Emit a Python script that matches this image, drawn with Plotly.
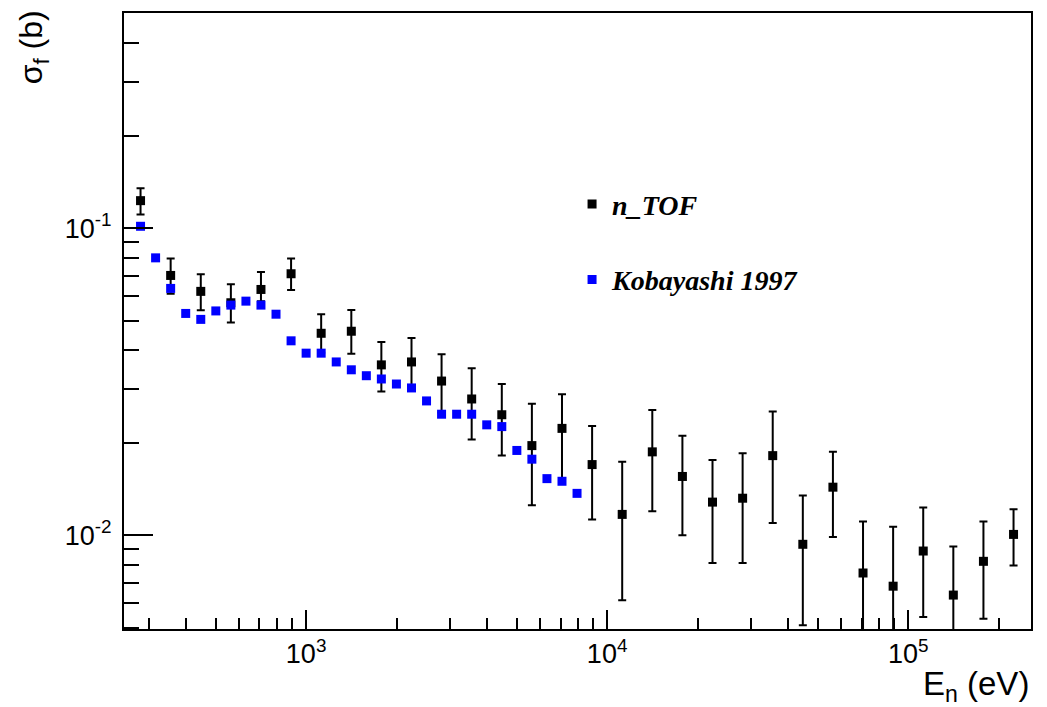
import plotly.graph_objects as go

# n_TOF data (energy in eV, cross section in b, with upper/lower error limits)
ntof_E = [281.8, 354.8, 446.7, 562.3, 707.9, 891.3, 1122, 1413, 1778, 2239,
          2818, 3548, 4467, 5623, 7079, 8913, 11220, 14125, 17783, 22387,
          28184, 35481, 44668, 56234, 70795, 89125, 112202, 141254, 177828, 223872]
ntof_sigma = [0.1230, 0.0702, 0.0623, 0.0572, 0.0632, 0.0711, 0.0455, 0.0462, 0.0359, 0.0367,
              0.0318, 0.0278, 0.0247, 0.0196, 0.0223, 0.0170, 0.0117, 0.0187, 0.01555, 0.01283,
              0.01321, 0.01818, 0.00935, 0.01435, 0.00754, 0.00683, 0.00889, 0.00639, 0.00823, 0.01007]
ntof_upper = [0.1349, 0.0797, 0.0708, 0.0657, 0.0720, 0.0797, 0.0525, 0.0542, 0.0426, 0.0439,
              0.0389, 0.0350, 0.0311, 0.0268, 0.0288, 0.0227, 0.01735, 0.0256, 0.0211, 0.0176,
              0.0185, 0.0253, 0.01349, 0.0187, 0.0111, 0.01066, 0.01233, 0.00919, 0.0111, 0.01217]
ntof_lower = [0.1108, 0.0612, 0.0541, 0.0493, 0.0579, 0.0629, 0.0393, 0.0390, 0.0294, 0.0307,
              0.0251, 0.0205, 0.0182, 0.01252, 0.0151, 0.01127, 0.00615, 0.01197, 0.0100, 0.00813,
              0.00813, 0.01096, 0.0051, 0.00987, 0.0045, 0.0042, 0.00542, 0.0042, 0.00535, 0.00797]

# Kobayashi 1997 data
koba_E = [281.8, 316.2, 354.8, 398.1, 446.7, 501.2, 562.3, 631.0, 707.9, 794.3,
          891.3, 1000, 1122, 1259, 1413, 1585, 1778, 1995, 2239, 2512,
          2818, 3162, 3548, 3981, 4467, 5012, 5623, 6310, 7079, 7943]
koba_sigma = [0.1015, 0.0801, 0.0637, 0.0528, 0.0505, 0.0538, 0.0562, 0.0579, 0.0562, 0.0525,
              0.0430, 0.0392, 0.0392, 0.0367, 0.0346, 0.0331, 0.0323, 0.0311, 0.0302, 0.0274,
              0.0248, 0.0248, 0.0248, 0.0229, 0.0226, 0.0189, 0.0177, 0.0153, 0.0150, 0.0137]

series_names = ["<b><i>n_TOF</i></b>", "<b><i>Kobayashi 1997</i></b>"]

# tick labels
x_tickvals = [1e3, 1e4, 1e5]
x_ticktext = ["10<sup>3</sup>", "10<sup>4</sup>", "10<sup>5</sup>"]
y_tickvals = [0.01, 0.1]
y_ticktext = ["10<sup>-2</sup>", "10<sup>-1</sup>"]

err_plus = [u - s for u, s in zip(ntof_upper, ntof_sigma)]
err_minus = [s - l for s, l in zip(ntof_sigma, ntof_lower)]

fig = go.Figure()
fig.add_trace(go.Scatter(
    x=ntof_E, y=ntof_sigma, mode="markers", name=series_names[0],
    legendgroup="a",
    marker=dict(symbol="square", size=9, color="black"),
    error_y=dict(type="data", symmetric=False, array=err_plus, arrayminus=err_minus,
                 color="black", thickness=2, width=4),
))
fig.add_trace(go.Scatter(
    x=koba_E, y=koba_sigma, mode="markers", name=series_names[1],
    legendgroup="b",
    marker=dict(symbol="square", size=9, color="#0000ff"),
))

axis_font = dict(family="Liberation Sans, Arial, sans-serif", size=27, color="black")

fig.update_xaxes(
    type="log", range=[2.395, 5.408],
    tickmode="array", tickvals=x_tickvals, ticktext=x_ticktext,
    showgrid=False, zeroline=False,
    showline=True, linecolor="black", linewidth=2, mirror=True,
    ticks="inside", ticklen=19, tickwidth=2, tickcolor="black",
    minor=dict(ticks="inside", ticklen=11, tickwidth=2, tickcolor="black", dtick="D1", showgrid=False),
    tickfont=axis_font, ticklabelstandoff=0,
)
fig.update_yaxes(
    type="log", range=[-2.305, -0.299],
    tickmode="array", tickvals=y_tickvals, ticktext=y_ticktext,
    showgrid=False, zeroline=False,
    showline=True, linecolor="black", linewidth=2, mirror=True,
    ticks="inside", ticklen=29, tickwidth=2, tickcolor="black",
    minor=dict(ticks="inside", ticklen=15, tickwidth=2, tickcolor="black", dtick="D1", showgrid=False),
    tickfont=axis_font, ticklabelstandoff=5,
)

fig.update_layout(
    width=1039, height=699,
    margin=dict(l=116, r=16, t=3, b=78),
    paper_bgcolor="white", plot_bgcolor="white",
    showlegend=True,
    legend=dict(
        x=0.494, y=0.73, xanchor="left", yanchor="top",
        bgcolor="rgba(0,0,0,0)", borderwidth=0,
        traceorder="grouped", tracegroupgap=36,
        font=dict(family="Liberation Serif, Times New Roman, serif", size=28, color="black"),
    ),
    annotations=[
        dict(text="σ<sub>f</sub> (b)", xref="paper", yref="paper",
             x=-0.1, y=1.008, xanchor="center", yanchor="top", textangle=-90,
             showarrow=False, font=dict(family="Liberation Sans, Arial, sans-serif", size=32, color="black")),
        dict(text="E<sub>n</sub> (eV)", xref="paper", yref="paper",
             x=1.0, y=-0.092, xanchor="right", yanchor="middle",
             showarrow=False, font=dict(family="Liberation Sans, Arial, sans-serif", size=33, color="black")),
    ],
)

fig.write_html("out.html")
